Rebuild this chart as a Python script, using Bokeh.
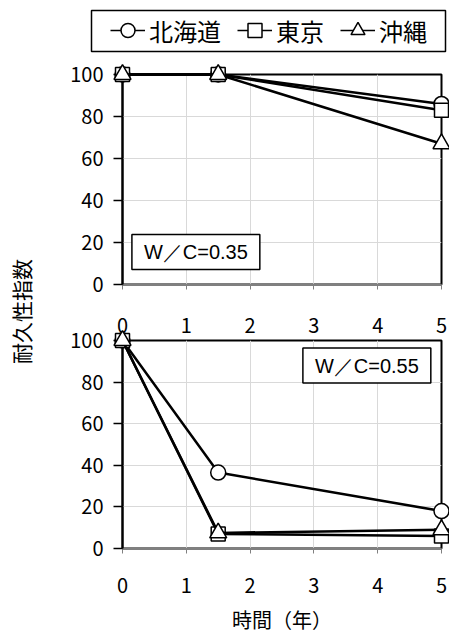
from math import pi
from bokeh.plotting import figure
from bokeh.models import Range1d, Legend, LegendItem, Label, FixedTicker, LinearAxis
from bokeh.layouts import row, column
from bokeh.embed import file_html
from bokeh.resources import INLINE

# ---- data ----
years = [0, 1.5, 5]
series_names = ["北海道", "東京", "沖縄"]
series_markers = ["circle", "square", "triangle"]
marker_sizes = [15, 14, 17]

wc035_hokkaido = [100, 100, 86]
wc035_tokyo = [100, 100, 83]
wc035_okinawa = [100, 100, 67]

wc055_hokkaido = [100, 36.5, 18]
wc055_tokyo = [100, 7, 6]
wc055_okinawa = [100, 7.5, 9]

x_ticks = [0, 1, 2, 3, 4, 5]
y_ticks = [0, 20, 40, 60, 80, 100]

x_title = "時間（年）"
y_title = "耐久性指数"
panel_labels = ["W／C=0.35", "W／C=0.55"]

FONT = "Noto Sans CJK JP"


def style_marks(p, mk, sz, xs, ys, level="overlay", lw=2.5):
    lr = p.line(xs, ys, line_color="black", line_width=lw, level=level)
    sr = p.scatter(xs, ys, marker=mk, size=sz, fill_color="white",
                   line_color="black", line_width=1.5, level=level)
    return lr, sr


def make_panel(height, mb_top, mb_bottom, data):
    p = figure(width=401, height=height, output_backend="svg", toolbar_location=None,
               x_range=Range1d(0, 5), y_range=Range1d(0, 100),
               min_border_left=74, min_border_right=8,
               min_border_top=mb_top, min_border_bottom=mb_bottom)
    p.background_fill_color = "white"
    p.border_fill_color = "white"
    p.outline_line_color = "black"
    p.outline_line_width = 2

    p.xaxis.ticker = FixedTicker(ticks=x_ticks)
    p.yaxis.ticker = FixedTicker(ticks=y_ticks)
    for ax in (p.xaxis, p.yaxis):
        ax.minor_tick_line_color = None
        ax.major_label_text_font = FONT
        ax.major_label_text_font_size = "20px"
        ax.major_label_text_color = "black"
    p.yaxis.axis_line_color = "black"
    p.yaxis.axis_line_width = 2
    p.yaxis.major_tick_line_color = "black"
    p.yaxis.major_tick_line_width = 1.5
    p.yaxis.major_tick_out = 9
    p.yaxis.major_tick_in = 0
    p.yaxis.major_label_standoff = 10
    p.xaxis.axis_line_color = "#808080"
    p.xaxis.axis_line_width = 1.5
    p.xaxis.major_tick_line_color = "#808080"
    p.xaxis.major_tick_out = 5
    p.xaxis.major_tick_in = 0

    p.grid.grid_line_color = "#d9d9d9"
    p.grid.grid_line_width = 1
    p.xgrid.ticker = FixedTicker(ticks=x_ticks)
    p.ygrid.ticker = FixedTicker(ticks=y_ticks)

    for mk, sz, vals in zip(series_markers, marker_sizes, data):
        style_marks(p, mk, sz, years, vals)
    return p


# top panel (W/C=0.35); its x tick labels are shown by the axis above the lower panel
top = make_panel(244, 18, 16, [wc035_hokkaido, wc035_tokyo, wc035_okinawa])
top.xaxis.major_label_overrides = {t: "" for t in x_ticks}
top.xaxis.major_label_standoff = 0

bottom = make_panel(336, 40, 87, [wc055_hokkaido, wc055_tokyo, wc055_okinawa])
bottom.xaxis.major_label_standoff = 24
bottom.xaxis.axis_label = x_title
bottom.xaxis.axis_label_text_font = FONT
bottom.xaxis.axis_label_text_font_size = "20px"
bottom.xaxis.axis_label_text_font_style = "normal"
bottom.xaxis.axis_label_text_color = "black"
bottom.xaxis.axis_label_standoff = 9

upper_ticks = LinearAxis(ticker=FixedTicker(ticks=x_ticks),
                         axis_line_color=None, major_tick_line_color=None,
                         minor_tick_line_color=None, major_tick_out=0, major_tick_in=0,
                         major_label_standoff=8, major_label_text_font=FONT,
                         major_label_text_font_size="20px", major_label_text_color="black")
bottom.add_layout(upper_ticks, "above")

top.add_layout(Label(x=1.15, y=15.5, text=panel_labels[0], text_align="center",
                     text_baseline="middle", text_font="Liberation Sans",
                     text_font_size="20px", text_color="black",
                     border_line_color="black", border_line_width=1.5,
                     background_fill_color="white",
                     padding=dict(left=12, right=12, top=7, bottom=6)))
bottom.add_layout(Label(x=3.83, y=88, text=panel_labels[1], text_align="center",
                        text_baseline="middle", text_font="Liberation Sans",
                        text_font_size="20px", text_color="black",
                        border_line_color="black", border_line_width=1.5,
                        background_fill_color="white",
                        padding=dict(left=12, right=12, top=7, bottom=6)))

# legend strip across the top: its frame outline is the legend box
leg = figure(width=449, height=56, output_backend="svg", toolbar_location=None,
             x_range=Range1d(0, 1), y_range=Range1d(0, 1),
             x_axis_type=None, y_axis_type=None,
             min_border_left=91, min_border_right=4,
             min_border_top=10, min_border_bottom=5)
leg.outline_line_color = "black"
leg.outline_line_width = 1.5
leg.grid.visible = False
items = []
for name, mk, sz, vals in zip(series_names, series_markers, marker_sizes,
                              [wc035_hokkaido, wc035_tokyo, wc035_okinawa]):
    # these series lie outside this strip's range, so only their legend glyphs show
    lr, sr = style_marks(leg, mk, sz, years, vals, level="glyph", lw=1.5)
    items.append(LegendItem(label=name, renderers=[lr, sr]))
legend = Legend(items=items, location=(19, 2), orientation="horizontal",
                label_text_font=FONT, label_text_font_size="24px",
                label_text_color="black",
                glyph_width=35, glyph_height=38, label_standoff=4, spacing=16,
                padding=0, margin=0, border_line_color=None,
                background_fill_alpha=0.0)
leg.add_layout(legend, "center")

ylab = figure(width=48, height=580, output_backend="svg", toolbar_location=None,
              x_range=Range1d(0, 48), y_range=Range1d(0, 580),
              x_axis_type=None, y_axis_type=None,
              min_border=0, min_border_left=0, min_border_right=0,
              min_border_top=0, min_border_bottom=0)
ylab.outline_line_color = None
ylab.grid.visible = False
ylab.add_layout(Label(x=20, y=325, text=y_title, angle=pi / 2, text_align="center",
                      text_baseline="middle", text_font=FONT, text_font_size="21px",
                      text_color="black"))

layout = column(leg, row(ylab, column(top, bottom, spacing=0), spacing=0), spacing=0)

open("out.html", "w").write(file_html(layout, INLINE))
